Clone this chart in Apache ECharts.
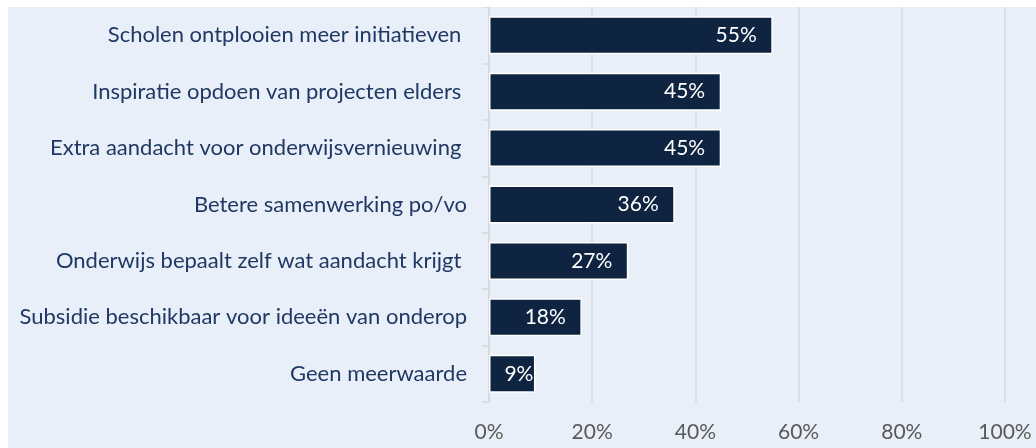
<!DOCTYPE html>
<html>
<head>
<meta charset="utf-8">
<script src="https://cdn.jsdelivr.net/npm/echarts@6/dist/echarts.min.js"></script>
<style>
  html, body { margin: 0; padding: 0; background: #fff; }
  #chart { position: absolute; left: 8px; top: 7px; width: 1028px; height: 441px; }
</style>
</head>
<body>
<div id="chart"></div>
<script>
// categories listed bottom to top (ECharts category y axis starts at the bottom)
const categories = [
  'Geen meerwaarde',
  'Subsidie beschikbaar voor ideeën van onderop',
  'Onderwijs bepaalt zelf wat aandacht krijgt ',
  'Betere samenwerking po/vo',
  'Extra aandacht voor onderwijsvernieuwing ',
  'Inspiratie opdoen van projecten elders ',
  'Scholen ontplooien meer initiatieven '
]
const values = [9, 18, 27, 36, 45, 45, 55]

const fontFamily = 'Lato, "Open Sans", sans-serif'

const chart = echarts.init(document.getElementById('chart'))

// short bars: the label barely fits, so push it to the bar end
const barData = values.map(v => (v < 10 ? { value: v, label: { distance: 2 } } : v))

const option = {
  backgroundColor: '#E9EFF8',
  animation: false,
  grid: { left: 481, right: 31, top: 0, bottom: 46 },
  xAxis: {
    type: 'value',
    min: 0,
    max: 100,
    interval: 20,
    axisLine: { show: false },
    axisTick: { show: false },
    splitLine: { lineStyle: { color: '#D9D9D9', width: 1.5 } },
    axisLabel: {
      formatter: '{value}%',
      color: '#595959',
      fontSize: 21,
      fontFamily: fontFamily,
      margin: 20
    }
  },
  yAxis: {
    type: 'category',
    data: categories,
    axisLine: { lineStyle: { color: '#D9D9D9', width: 1.5 } },
    axisTick: { show: true, length: 7, lineStyle: { color: '#D9D9D9', width: 1.5 } },
    axisLabel: {
      color: '#1F3864',
      fontSize: 22,
      fontFamily: fontFamily,
      margin: 22
    }
  },
  series: [{
    type: 'bar',
    data: barData,
    barWidth: 38,
    itemStyle: { color: '#0F2440', borderColor: '#ffffff', borderWidth: 1.5 },
    label: {
      show: true,
      position: 'insideRight',
      distance: 16,
      formatter: '{c}%',
      color: '#ffffff',
      fontSize: 21,
      fontFamily: fontFamily
    }
  }]
}

chart.setOption(option)
</script>
</body>
</html>
